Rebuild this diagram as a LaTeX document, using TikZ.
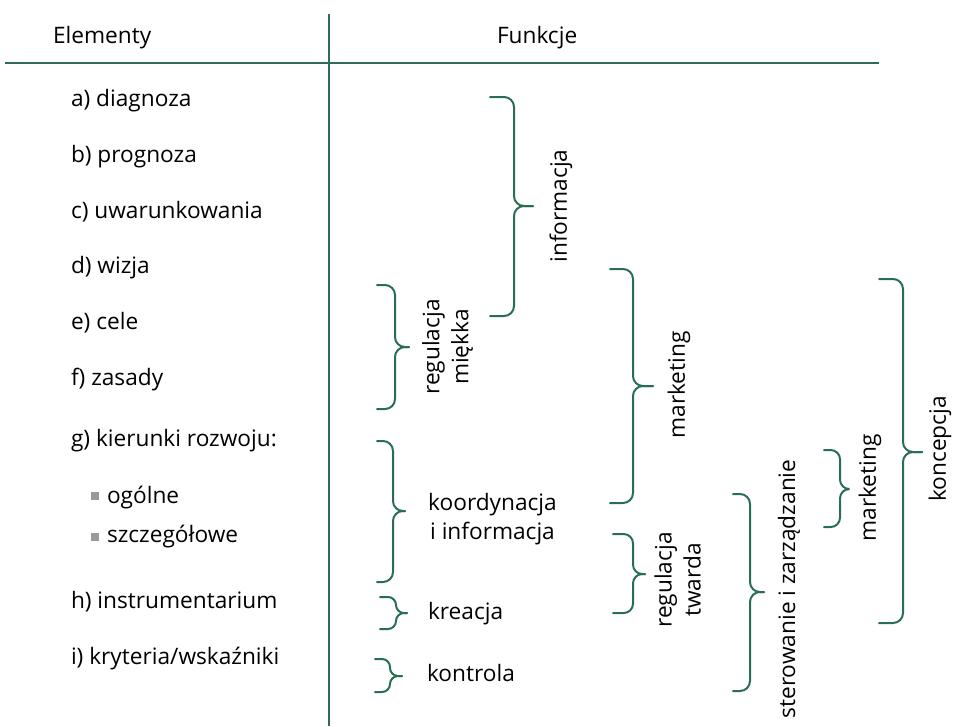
\documentclass[tikz,border=0pt]{standalone}
\usepackage{fontspec}
\setmainfont{Open Sans}
\definecolor{bracegreen}{HTML}{2A6E52}
\definecolor{rulegreen}{HTML}{2F6B55}
\definecolor{bulletgray}{HTML}{9A9A9A}

% curly brace opening to the right: tips at x0, spine at x1, point at x2
\newcommand{\grpbrace}[7]{%
  \draw[bracebar, rounded corners=#7] (#1,#4) -- (#2,#4) -- (#2,#5) -- (#3,#5);
  \draw[bracebar, rounded corners=#7] (#1,#6) -- (#2,#6) -- (#2,#5) -- (#3,#5);
}

\begin{document}
\begin{tikzpicture}[x=0.75pt, y=-0.75pt,
  every node/.style={inner sep=0pt, outer sep=0pt, font=\fontsize{17}{21.75}\selectfont},
  bracebar/.style={draw=bracegreen, line width=1.5pt, line cap=round},
  item/.style={anchor=base west},
  vlabel/.style={rotate=90, align=center},
  hlabel/.style={align=center},
  bulletsq/.style={fill=bulletgray, draw=none}]
\useasboundingbox (0,0) rectangle (953,726);

% table frame
\draw[rulegreen, line width=1.6pt] (5,63) -- (879,63);
\draw[rulegreen, line width=0.9pt] (329,14) -- (329,726);

% column headings
\node[item] (hElem) at (53,43.8) {Elementy};
\node[item] (hFunk) at (497,43.8) {Funkcje};

% elements
\node[item] (ea) at (71,106.7) {a) diagnoza};
\node[item] (eb) at (71,162.5) {b) prognoza};
\node[item] (ec) at (71,218.2) {c) uwarunkowania};
\node[item] (ed) at (71,273.3) {d) wizja};
\node[item] (ee) at (71,329.5) {e) cele};
\node[item] (ef) at (71,385.5) {f) zasady};
\node[item] (eg) at (71,446.5) {g) kierunki rozwoju:};
\fill[bulletsq] (91,492) rectangle (99,500);
\node[item] (eg1) at (107,503) {ogólne};
\fill[bulletsq] (91,533) rectangle (99,541);
\node[item] (eg2) at (107,542.5) {szczegółowe};
\node[item] (eh) at (71,608.5) {h) instrumentarium};
\node[item] (ei) at (71,664.5) {i) kryteria/wskaźniki};

% first level of grouping
\grpbrace{490}{514}{533}{97}{206}{316}{7.5pt}
\node[vlabel] (fInfo) at (561,206) {informacja};

\grpbrace{377}{395}{409}{285}{347}{409}{7.5pt}
\node[vlabel] (fRegM) at (447.5,347) {regulacja\\miękka};

\grpbrace{377}{393}{405}{441}{511}{582}{7.5pt}
\node[hlabel] (fKoord) at (492.5,519) {koordynacja\\i informacja};

\grpbrace{380}{396}{407}{597}{613}{629}{6pt}
\node[item] (fKre) at (428,619.3) {kreacja};

\grpbrace{375}{390}{402}{659}{676}{692}{6pt}
\node[item] (fKon) at (427,681.7) {kontrola};

% second level
\grpbrace{610}{633}{653}{269}{386}{503}{7.5pt}
\node[vlabel] (fMark) at (679,385) {marketing};

\grpbrace{613}{633}{645}{534}{574}{613}{7pt}
\node[vlabel] (fRegT) at (677.5,580) {regulacja\\twarda};

\grpbrace{733}{750}{764}{494}{592}{691}{7.5pt}
\node[vlabel] (fSter) at (789,589) {sterowanie i zarządzanie};

\grpbrace{824}{840}{847}{450}{489}{527}{7pt}
\node[vlabel] (fMark2) at (870,488) {marketing};

\grpbrace{879}{903}{922}{279}{452}{623}{7.5pt}
\node[vlabel] (fKonc) at (940,449) {koncepcja};
\end{tikzpicture}
\end{document}
